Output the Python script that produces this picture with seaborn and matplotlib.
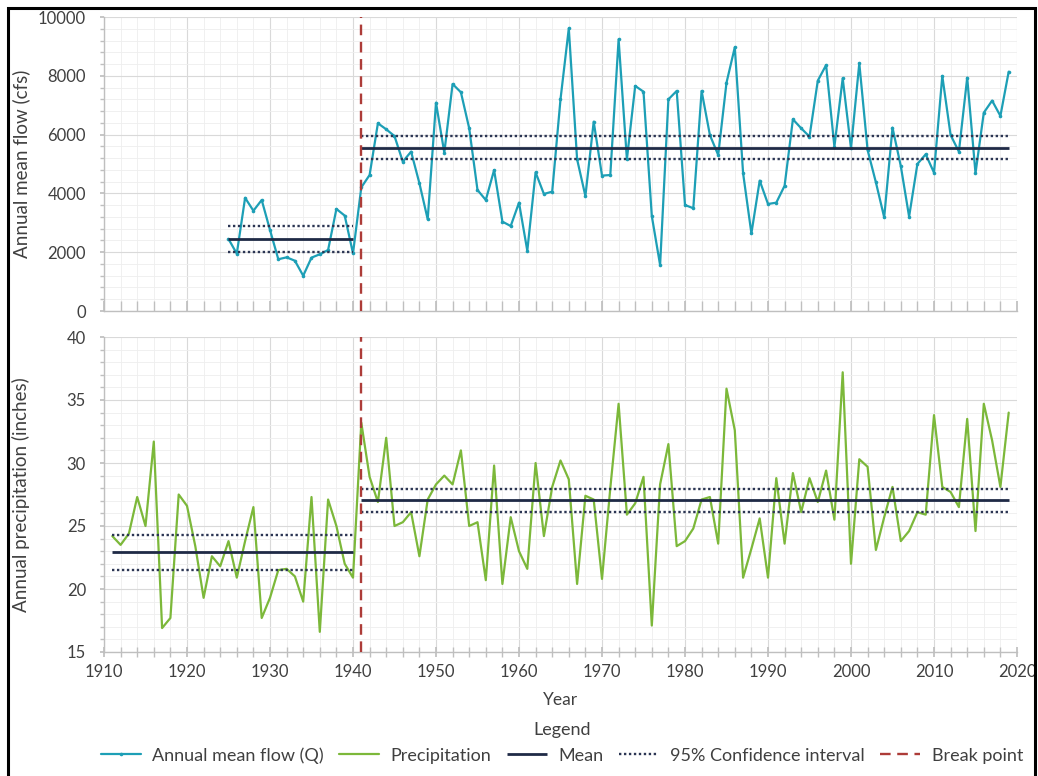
import matplotlib
matplotlib.use("Agg")
import matplotlib.pyplot as plt
from matplotlib.ticker import MultipleLocator
from matplotlib.patches import Rectangle
import pandas as pd
import seaborn as sns

# ---- data -------------------------------------------------------------
flow_years = list(range(1925, 2020))
flow_cfs = [
    2450, 1950, 3850, 3410, 3775, 2755, 1760, 1825, 1710, 1200,
    1815, 1930, 2075, 3470, 3245, 1960, 4205, 4625, 6385, 6180,
    5950, 5080, 5420, 4345, 3120, 7085, 5385, 7720, 7440, 6215,
    4115, 3775, 4795, 3040, 2890, 3685, 2050, 4715, 3980, 4060,
    7200, 9615, 5160, 3910, 6440, 4605, 4625, 9240, 5160, 7655,
    7460, 3230, 1565, 7200, 7485, 3605, 3495, 7485, 5985, 5305,
    7765, 8970, 4685, 2640, 4435, 3640, 3685, 4260, 6520, 6215,
    5930, 7835, 8365, 5590, 7915, 5535, 8425, 5475, 4375, 3185,
    6235, 4930, 3210, 5000, 5330, 4705, 7995, 5985, 5420, 7935,
    4685, 6745, 7155, 6635, 8140,
]

precip_years = list(range(1911, 2020))
precip_in = [
    24.2, 23.5, 24.4, 27.3, 25.0, 31.7, 16.9, 17.7, 27.5, 26.6,
    23.4, 19.3, 22.6, 21.8, 23.8, 20.9, 23.8, 26.5, 17.7, 19.3,
    21.5, 21.6, 21.0, 19.0, 27.3, 16.6, 27.1, 25.0, 22.0, 20.9,
    33.2, 28.9, 26.9, 32.0, 25.0, 25.3, 26.1, 22.6, 27.1, 28.3,
    29.0, 28.3, 31.0, 25.0, 25.3, 20.7, 29.8, 20.4, 25.7, 23.0,
    21.6, 30.0, 24.2, 28.1, 30.2, 28.7, 20.4, 27.4, 27.1, 20.8,
    28.0, 34.7, 25.9, 26.8, 28.9, 17.1, 28.3, 31.5, 23.4, 23.8,
    24.8, 27.1, 27.3, 23.6, 35.9, 32.6, 20.9, 23.2, 25.6, 20.9,
    28.8, 23.6, 29.2, 26.1, 28.8, 26.9, 29.4, 25.5, 37.2, 22.0,
    30.3, 29.7, 23.1, 25.7, 28.1, 23.8, 24.6, 26.1, 25.9, 33.8,
    28.1, 27.7, 26.5, 33.5, 24.6, 34.7, 31.8, 28.1, 34.0,
]

break_year = 1941

# segment statistics before / after the break point
flow_seg_start = [1925, 1941]
flow_seg_end = [1940, 2019]
flow_mean = [2445, 5555]
flow_ci_low = [1990, 5160]
flow_ci_high = [2890, 5950]

precip_seg_start = [1911, 1941]
precip_seg_end = [1940, 2019]
precip_mean = [22.95, 27.05]
precip_ci_low = [21.5, 26.15]
precip_ci_high = [24.25, 27.95]

x_ticks = list(range(1910, 2021, 10))
flow_ticks = list(range(0, 10001, 2000))
precip_ticks = list(range(15, 41, 5))

# ---- style ------------------------------------------------------------
sns.set_theme(style="white")
plt.rcParams["font.family"] = ["Lato", "DejaVu Sans"]

FLOW_C = "#1d9fb6"
PRECIP_C = "#7cb83a"
MEAN_C = "#1f2a46"
CI_C = "#2b3553"
BREAK_C = "#ad3c38"
AXIS_C = "#bfbfbf"
TEXT_C = "#404040"

fig = plt.figure(figsize=(10.38, 7.76), dpi=100)
W, H = 1038, 776
left, right = 104 / W, 1017 / W
ax_top = fig.add_axes([left, 1 - 311 / H, right - left, (311 - 17) / H])
ax_bot = fig.add_axes([left, 1 - 652 / H, right - left, (652 - 337) / H])

flow_df = pd.DataFrame({"Year": flow_years, "Flow": flow_cfs})
precip_df = pd.DataFrame({"Year": precip_years, "Precip": precip_in})

sns.lineplot(data=flow_df, x="Year", y="Flow", ax=ax_top, color=FLOW_C,
             lw=1.6, marker="o", markersize=2.6, markeredgewidth=0,
             legend=False, zorder=3)
sns.lineplot(data=precip_df, x="Year", y="Precip", ax=ax_bot, color=PRECIP_C,
             lw=1.6, legend=False, zorder=3)

mean_kw = dict(color=MEAN_C, lw=2.0, zorder=4)
ci_kw = dict(color=CI_C, lw=1.7, linestyle=(0, (1, 1.1)), zorder=4)

for s, e, m, lo, hi in zip(flow_seg_start, flow_seg_end, flow_mean,
                           flow_ci_low, flow_ci_high):
    h_mean = ax_top.hlines(m, s, e, **mean_kw)
    h_ci = ax_top.hlines([lo, hi], s, e, **ci_kw)

for s, e, m, lo, hi in zip(precip_seg_start, precip_seg_end, precip_mean,
                           precip_ci_low, precip_ci_high):
    ax_bot.hlines(m, s, e, **mean_kw)
    ax_bot.hlines([lo, hi], s, e, **ci_kw)

break_kw = dict(color=BREAK_C, lw=1.7, linestyle=(0, (4.5, 2.8)), zorder=5)
h_break = ax_top.axvline(break_year, **break_kw)
ax_bot.axvline(break_year, **break_kw)

# ---- axes cosmetics ---------------------------------------------------
for ax in (ax_top, ax_bot):
    ax.set_xlim(1910, 2020)
    ax.set_xticks(x_ticks)
    ax.xaxis.set_minor_locator(MultipleLocator(2))
    ax.grid(which="major", color="#d9d9d9", lw=0.8)
    ax.grid(which="minor", color="#eeeeee", lw=0.6)
    ax.set_axisbelow(True)
    for side in ("top", "right"):
        ax.spines[side].set_visible(False)
    for side in ("left", "bottom"):
        ax.spines[side].set_color(AXIS_C)
        ax.spines[side].set_linewidth(1.0)
    ax.tick_params(axis="y", which="both", direction="out", length=3,
                   color=AXIS_C, labelcolor=TEXT_C, labelsize=12, pad=10,
                   left=True)
    ax.tick_params(axis="x", which="both", length=7, color=AXIS_C,
                   labelcolor=TEXT_C, labelsize=12, bottom=True)

ax_top.set_ylim(0, 10000)
ax_top.set_yticks(flow_ticks)
ax_top.yaxis.set_minor_locator(MultipleLocator(400))
ax_top.tick_params(axis="x", which="both", direction="in", labelbottom=False)
ax_top.set_xlabel("")
ax_top.set_ylabel("Annual mean flow (cfs)", fontsize=13.5, color=TEXT_C)

ax_bot.set_ylim(15, 40)
ax_bot.set_yticks(precip_ticks)
ax_bot.yaxis.set_minor_locator(MultipleLocator(1))
ax_bot.tick_params(axis="x", which="both", direction="inout", pad=5)
ax_bot.set_xlabel("Year", fontsize=12.5, color=TEXT_C, labelpad=9)
ax_bot.set_ylabel("Annual precipitation (inches)", fontsize=13.5,
                  color=TEXT_C)

for ax in (ax_top, ax_bot):
    ax.yaxis.set_label_coords(-0.081, 0.5)

# ---- legend (centred under the plotting area) ---------------------------
handles = [ax_top.lines[0], ax_bot.lines[0], h_mean, h_ci, h_break]
labels = ["Annual mean flow (Q)", "Precipitation", "Mean",
          "95% Confidence interval", "Break point"]
leg = fig.legend(handles, labels, loc="center",
                 bbox_to_anchor=(562 / W, 1 - 743 / H), ncol=5, frameon=False,
                 title="Legend", fontsize=13, title_fontsize=13,
                 handlelength=2.2, handletextpad=0.65, columnspacing=0.85,
                 borderaxespad=0.0)
for t in leg.get_texts():
    t.set_color(TEXT_C)
leg.get_title().set_color(TEXT_C)

# outer frame around the figure
fig.add_artist(Rectangle((8 / W, -0.02), (1035 - 8) / W, 1 - 8 / H + 0.02,
                         transform=fig.transFigure, fill=False,
                         edgecolor="black", lw=2.2, clip_on=False))

fig.savefig("out.png", dpi=100)
